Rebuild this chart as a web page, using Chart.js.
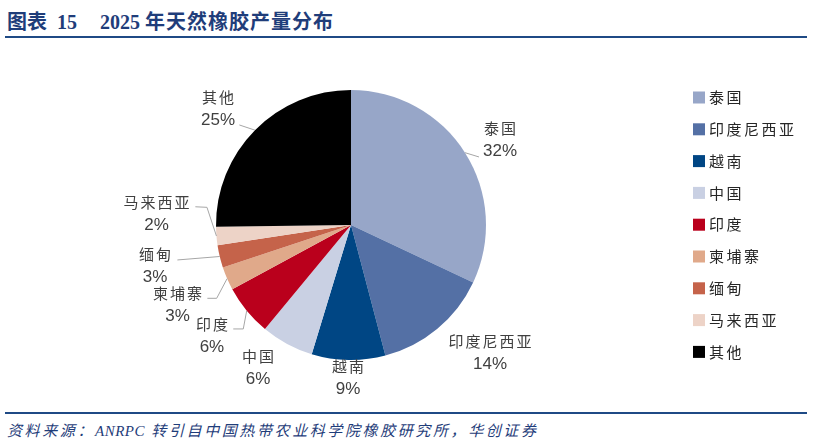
<!DOCTYPE html>
<html>
<head>
<meta charset="utf-8">
<script src="https://cdn.jsdelivr.net/npm/chart.js@4/dist/chart.umd.min.js"></script>
<style>
  html, body { margin: 0; padding: 0; background: #fff; }
  #wrap { position: relative; width: 829px; height: 443px; overflow: hidden; }
  #title { position: absolute; left: 7px; top: 6px; font: bold 20px "Liberation Serif", "Noto Sans CJK SC", serif; color: #1F3D7A; white-space: pre; }
  #title span { display: inline-block; }
  .rule { position: absolute; left: 5px; width: 802px; height: 2px; background: #1F4A85; }
  #footer { position: absolute; left: 7px; top: 419px; font: italic 15px "Liberation Serif", "Noto Sans CJK SC", serif; color: #1F3D7A; letter-spacing: 2.6px; white-space: pre; }
  #footer .lat { letter-spacing: 0.5px; }
  #chartBox { position: absolute; left: 0; top: 0; width: 829px; height: 443px; }
</style>
</head>
<body>
<div id="wrap">
  <div id="title"><span>图表</span><span style="margin-left:10px">15</span><span style="margin-left:23px">2025</span><span style="margin-left:5px;letter-spacing:1px">年天然橡胶产量分布</span></div>
  <div class="rule" style="top:36px"></div>
  <div class="rule" style="top:412px"></div>
  <div id="footer">资料来源：<span class="lat">ANRPC</span> 转引自中国热带农业科学院橡胶研究所，华创证券</div>
  <div id="chartBox"><canvas id="c"></canvas></div>
</div>
<script>
// ---- data ----
const categories = ['泰国', '印度尼西亚', '越南', '中国', '印度', '柬埔寨', '缅甸', '马来西亚', '其他'];
const shares = [32.0, 13.9, 8.8, 6.3, 6.1, 2.8, 2.7, 2.2, 25.2];
const sliceColors = ['#97A6C8', '#5470A5', '#004684', '#C9D0E3', '#BA001C', '#E0A98A', '#C5634A', '#EDD3C7', '#000000'];

// ---- label layout (relative to pie centre, in units of radius) ----
const labelPos = [
  [1.104, -0.637], [1.03, 0.94], [-0.022, 1.126], [-0.689, 1.052], [-1.03, 0.815],
  [-1.285, 0.585], [-1.452, 0.296], [-1.44, -0.087], [-0.985, -0.863]
];
const leaders = [
  [[0.948, -0.504]],
  null,
  null,
  null,
  [[-0.798, 0.77], [-0.872, 0.77]],
  [[-0.995, 0.543], [-1.064, 0.543]],
  [[-1.286, 0.259]],
  [[-1.067, -0.131], [-1.153, -0.135]],
  [[-0.827, -0.741]]
];

const labelPlugin = {
  id: 'pieLabels',
  afterDatasetsDraw(chart) {
    const ctx = chart.ctx;
    const meta = chart.getDatasetMeta(0);
    const total = shares.reduce((a, b) => a + b, 0);
    ctx.save();
    meta.data.forEach((arc, i) => {
      const cx = arc.x, cy = arc.y, R = arc.outerRadius;
      const mid = (arc.startAngle + arc.endAngle) / 2;
      if (leaders[i]) {
        ctx.beginPath();
        ctx.strokeStyle = '#A6A6A6';
        ctx.lineWidth = 1;
        ctx.moveTo(cx + Math.cos(mid) * R, cy + Math.sin(mid) * R);
        leaders[i].forEach(p => ctx.lineTo(cx + p[0] * R, cy + p[1] * R));
        ctx.stroke();
      }
      const lx = cx + labelPos[i][0] * R;
      const ly = cy + labelPos[i][1] * R;
      ctx.textAlign = 'center';
      ctx.textBaseline = 'middle';
      ctx.fillStyle = '#404040';
      ctx.font = '15px "Noto Sans CJK SC", sans-serif';
      ctx.letterSpacing = '2px';
      ctx.fillText(categories[i], lx + 1, ly - 11);
      ctx.letterSpacing = '0px';
      ctx.font = '17px "Liberation Sans", Arial, sans-serif';
      ctx.fillText(Math.round(shares[i] / total * 100) + '%', lx, ly + 12);
    });
    ctx.restore();
  }
};

const legendPlugin = {
  id: 'sideLegend',
  afterDraw(chart) {
    const ctx = chart.ctx;
    ctx.save();
    const x0 = 693, y0 = 97.5, step = 31.8, box = 12;
    categories.forEach((name, i) => {
      const y = y0 + i * step;
      ctx.fillStyle = sliceColors[i];
      ctx.fillRect(x0, y - box / 2, box, box);
      ctx.fillStyle = '#262626';
      ctx.font = '15px "Noto Sans CJK SC", sans-serif';
      ctx.letterSpacing = '2.5px';
      ctx.textAlign = 'left';
      ctx.textBaseline = 'middle';
      ctx.fillText(name, x0 + box + 4, y);
    });
    ctx.restore();
  }
};

new Chart(document.getElementById('c'), {
  type: 'pie',
  data: {
    labels: categories,
    datasets: [{
      data: shares,
      backgroundColor: sliceColors,
      borderWidth: 0,
      hoverOffset: 0,
      offset: 0
    }]
  },
  options: {
    responsive: true,
    maintainAspectRatio: false,
    animation: false,
    events: [],
    layout: { padding: { left: 216, right: 343, top: 90, bottom: 83 } },
    plugins: {
      legend: { display: false },
      tooltip: { enabled: false }
    }
  },
  plugins: [labelPlugin, legendPlugin]
});
</script>
</body>
</html>
